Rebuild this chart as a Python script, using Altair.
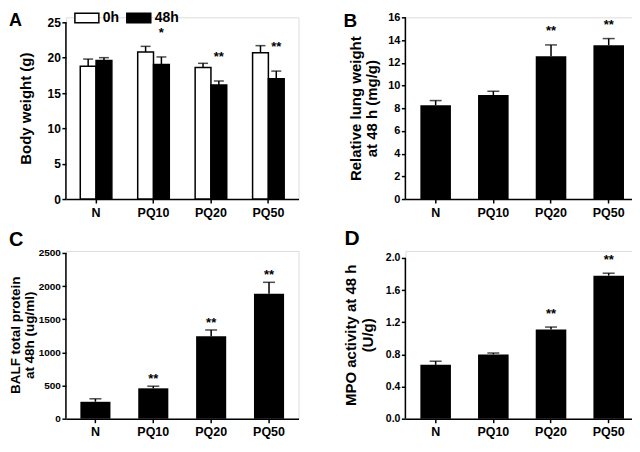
import altair as alt
import pandas as pd

FONT = "Liberation Sans"

groups = ["N", "PQ10", "PQ20", "PQ50"]
timepoints = ["0h", "48h"]
panel_letters = ["A", "B", "C", "D"]

# Panel A: body weight (g)
bw_0h = [18.8, 20.8, 18.6, 20.7]
bw_0h_err = [1.0, 0.8, 0.6, 1.0]
bw_48h = [19.6, 19.05, 16.15, 17.0]
bw_48h_err = [0.4, 1.05, 0.55, 1.1]
bw_48h_sig = ["", "*", "**", "**"]

# Panel B: relative lung weight at 48 h (mg/g)
lung = [8.25, 9.15, 12.57, 13.55]
lung_err = [0.42, 0.34, 1.0, 0.58]
lung_sig = ["", "", "**", "**"]

# Panel C: BALF total protein at 48h (ug/ml)
protein = [255, 458, 1245, 1885]
protein_err = [45, 32, 93, 172]
protein_sig = ["", "**", "**", "**"]

# Panel D: MPO activity at 48 h (U/g)
mpo = [0.67, 0.80, 1.11, 1.78]
mpo_err = [0.045, 0.017, 0.03, 0.03]
mpo_sig = ["", "", "**", "**"]

dfA = pd.DataFrame({
    "group": groups * 2,
    "time": ["0h"] * 4 + ["48h"] * 4,
    "value": bw_0h + bw_48h,
    "err": bw_0h_err + bw_48h_err,
    "sig": [""] * 4 + bw_48h_sig,
})
dfB = pd.DataFrame({"group": groups, "value": lung, "err": lung_err, "sig": lung_sig})
dfC = pd.DataFrame({"group": groups, "value": protein, "err": protein_err, "sig": protein_sig})
dfD = pd.DataFrame({"group": groups, "value": mpo, "err": mpo_err, "sig": mpo_sig})
for d in (dfA, dfB, dfC, dfD):
    d["top"] = d["value"] + d["err"]


def panel(df, letter, ytitle, dmax, tickmax, ticks, fmt, label_size, title_pad,
          star_dy, cap, width, height, letter_x, letter_y, letter_size,
          title_size=15, title_lh=16.5, xlab_pad=3, grouped=False, pin=0.47, pout=0.26,
          anchor=False):
    xs = alt.Scale(paddingInner=pin, paddingOuter=pout)
    xax = alt.Axis(title=None, labelAngle=0, labelFontSize=12.5, labelFontWeight="bold",
                   labelFont=FONT, labelColor="black", labelPadding=xlab_pad, tickSize=4,
                   tickWidth=1.5, tickColor="black", domainWidth=1.5, domainColor="black",
                   grid=False)
    ys = alt.Scale(domain=[0, dmax], nice=False, zero=True)
    yax = alt.Axis(title=ytitle, values=ticks, format=fmt, domain=False, grid=False,
                   tickSize=4, tickWidth=1.5, tickColor="black", labelFont=FONT,
                   labelFontSize=label_size, labelFontWeight="bold", labelColor="black",
                   labelPadding=1.5, titleFont=FONT, titleFontSize=title_size,
                   titleFontWeight="bold", titleColor="black", titlePadding=title_pad,
                   titleLineHeight=title_lh, labelOverlap=False)
    X = alt.X("group:N", sort=groups, scale=xs, axis=xax)
    enc = {"x": X}
    if grouped:
        enc["xOffset"] = alt.XOffset("time:N", sort=timepoints,
                                     scale=alt.Scale(paddingInner=0, paddingOuter=0))
    base = alt.Chart(df)
    if grouped:
        bars = base.mark_bar(stroke="black", strokeWidth=1.5).encode(
            y=alt.Y("value:Q", scale=ys, axis=yax),
            color=alt.Color("time:N", sort=timepoints,
                            scale=alt.Scale(domain=timepoints, range=["white", "black"]),
                            legend=alt.Legend(title=None, orient="none", legendX=8, legendY=-12.5,
                                              direction="horizontal",
                                              symbolType="M-1,-0.4H1V0.4H-1Z", symbolSize=576,
                                              symbolStrokeColor="black", symbolStrokeWidth=1.5,
                                              labelFont=FONT, labelFontSize=14,
                                              labelFontWeight="bold", labelColor="black",
                                              labelOffset=3, columnPadding=4, padding=0)),
            **enc)
    else:
        bars = base.mark_bar(color="black").encode(
            y=alt.Y("value:Q", scale=ys, axis=yax), **enc)
    rule = base.mark_rule(color="black", strokeWidth=1.5).encode(
        y=alt.Y("value:Q", scale=ys, axis=yax), y2="top:Q", **enc)
    caps = base.mark_tick(color="black", thickness=1.5, size=cap).encode(
        y=alt.Y("top:Q", scale=ys, axis=yax), **enc)
    stars = base.transform_filter("datum.sig != ''").mark_text(
        font=FONT, fontSize=13, fontWeight="bold", color="black", baseline="alphabetic",
        dy=star_dy).encode(y=alt.Y("top:Q", scale=ys, axis=yax), text="sig:N", **enc)
    yline = alt.Chart(pd.DataFrame({"k": [0]})).mark_rule(color="black", strokeWidth=1.5).encode(
        x=alt.value(0), y=alt.YDatum(0, scale=ys, axis=yax), y2=alt.Y2Datum(tickmax))
    lab = alt.Chart(pd.DataFrame({"letter": [letter]})).mark_text(
        font=FONT, fontSize=letter_size, fontWeight="bold", color="black", align="left",
        baseline="alphabetic").encode(x=alt.value(letter_x), y=alt.value(letter_y), text="letter:N")
    layers = [bars, rule, caps, stars, yline, lab]
    if anchor:
        # invisible layout anchor fixing the top-left corner of the whole figure
        layers.append(alt.Chart(pd.DataFrame({"k": [0]})).mark_rule(opacity=0, strokeOpacity=0).encode(
            x=alt.value(-80), x2=alt.value(-79), y=alt.value(-30)))
    return alt.layer(*layers).properties(width=width, height=height)


A = panel(dfA, panel_letters[0], "Body weight (g)", 25 * 182 / 177, 25, [0, 5, 10, 15, 20, 25],
          "d", 12, 14, -20, 10, 233, 182, -57, 8.5, 18, grouped=True, pin=0.45, pout=0.25,
          anchor=True)
B = panel(dfB, panel_letters[1], ["Relative lung weight", "at 48 h (mg/g)"], 16, 16,
          [0, 2, 4, 6, 8, 10, 12, 14, 16], "d", 11, 8, -9.5, 12, 234, 182, -62, 9.5, 19)
C = panel(dfC, panel_letters[2], ["BALF total protein", "at 48h (ug/ml)"], 2530, 2500,
          [0, 500, 1000, 1500, 2000, 2500], "d", 10, 2, -3, 12, 233, 168, -57, -5, 20,
          title_size=13.5, title_lh=13.5, xlab_pad=2.5, pin=0.48, pout=0.25)
D = panel(dfD, panel_letters[3], ["MPO activity at 48 h", "(U/g)"], 2.087, 2.0,
          [0, 0.4, 0.8, 1.2, 1.6, 2.0], ".1f", 10.5, 10, -9, 12, 234, 168, -61, -6, 21,
          xlab_pad=2.5)

chart = alt.concat(A, B, C, D, columns=2, spacing=alt.RowColnumber(row=52, column=106),
                   bounds="flush", align="all").properties(
    padding={"left": -23, "top": -22, "right": -8, "bottom": 0}
).configure_view(stroke=None).configure_axis(labelOverlap=False).configure(background="white")

chart.save("out.html", embed_options={"renderer": "svg", "actions": False})
